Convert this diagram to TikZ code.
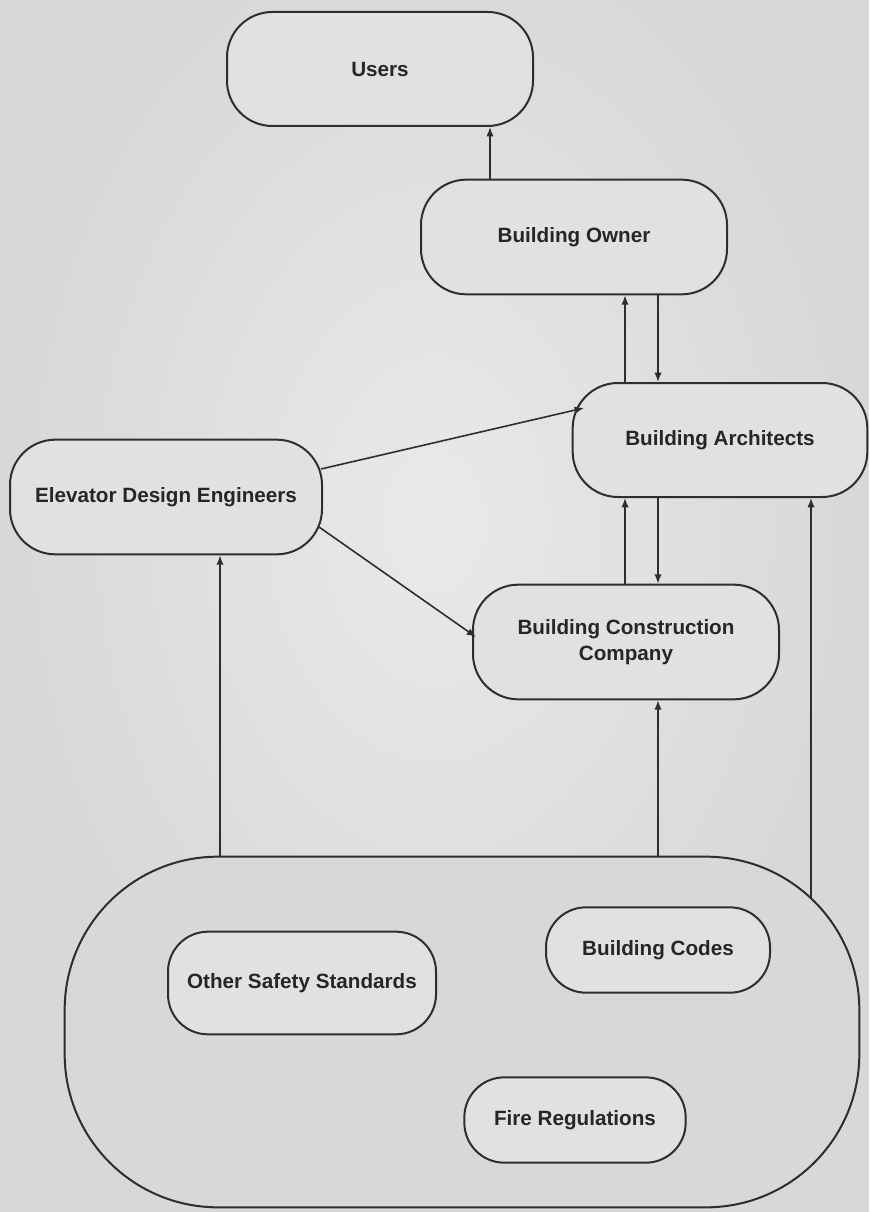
\documentclass[tikz,border=0pt]{standalone}
\usepackage{fontspec}
\setmainfont{Liberation Sans}
\usetikzlibrary{arrows.meta}
\definecolor{bgc}{HTML}{DAD8D6}
\definecolor{boxc}{HTML}{E3E1DF}
\definecolor{linec}{HTML}{2E2E2E}
\begin{document}
\begin{tikzpicture}[x=0.75pt,y=-0.75pt,
  box/.style={draw=linec, fill=boxc, line width=1.5pt, rectangle, rounded corners=34pt,
    inner sep=0pt, align=center, font=\fontsize{15.5}{18}\selectfont\bfseries, text=black!85},
  inbox/.style={box, rounded corners=30pt},
  arr/.style={draw=linec, line width=1.2pt, -{Latex[length=7pt,width=5.5pt]}}]
\useasboundingbox (0,0) rectangle (869,1212);
\fill[bgc] (0,0) rectangle (869,1212);
\shade[inner color=white!65!bgc, outer color=bgc, opacity=0.7] (434,520) ellipse (430 and 620);
% nodes
\node[box, minimum width=229.5pt, minimum height=85.5pt] (users) at (380,69) {Users};
\node[box, minimum width=229.5pt, minimum height=86pt] (owner) at (574,237) {Building Owner};
\node[box, minimum width=221pt, minimum height=85.5pt] (arch) at (720,440) {Building Architects};
\node[box, minimum width=234pt, minimum height=86pt] (ede) at (166,497) {Elevator Design Engineers};
\node[box, minimum width=229.5pt, minimum height=86pt] (bcc) at (626,642) {Building Construction\\[1pt]Company};
\node[box, fill=bgc, rounded corners=115pt, minimum width=596pt, minimum height=263pt] (ctn) at (462,1032) {};
\node[inbox, minimum width=201pt, minimum height=77pt] (oss) at (302,983) {Other Safety Standards};
\node[inbox, minimum width=168pt, minimum height=64pt] (codes) at (658,950) {Building Codes};
\node[inbox, minimum width=166pt, minimum height=64pt] (fire) at (575,1120) {Fire Regulations};
% helper coordinates
\coordinate (xa) at (490,0);
\coordinate (xb) at (625,0);
\coordinate (xc) at (658,0);
\coordinate (xd) at (220,0);
\coordinate (ctnR) at (811,899);
\coordinate (edeA) at (321,469);
\coordinate (archA) at (584,408);
\coordinate (edeB) at (319,527);
\coordinate (bccA) at (476,637);
% connectors
\draw[arr] (owner.north -| xa) -- (users.south -| xa);
\draw[arr] (arch.north -| xb) -- (owner.south -| xb);
\draw[arr] (owner.south -| xc) -- (arch.north -| xc);
\draw[arr] (bcc.north -| xb) -- (arch.south -| xb);
\draw[arr] (arch.south -| xc) -- (bcc.north -| xc);
\draw[arr] (edeA) -- (archA);
\draw[arr] (edeB) -- (bccA);
\draw[arr] (ctn.north -| xd) -- (ede.south -| xd);
\draw[arr] (ctn.north -| xc) -- (bcc.south -| xc);
\draw[arr] (ctnR) -- (arch.south -| ctnR);
\end{tikzpicture}
\end{document}
